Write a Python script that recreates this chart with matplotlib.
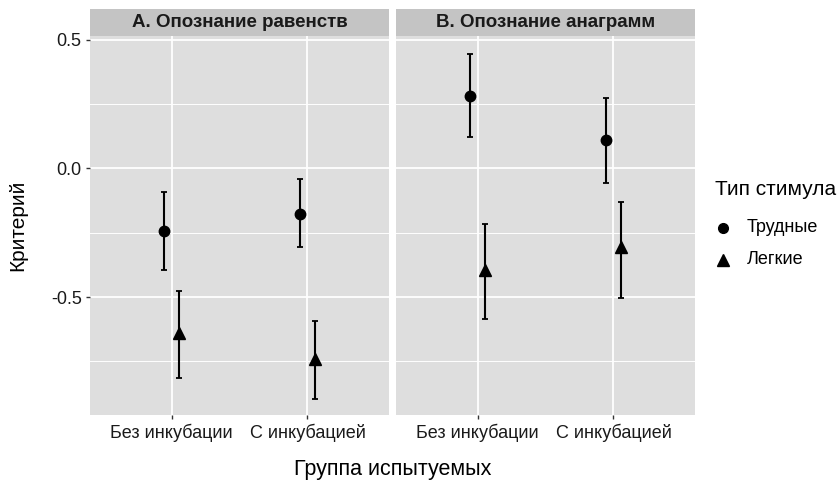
import matplotlib.pyplot as plt
from matplotlib.lines import Line2D

plt.rcParams['font.family'] = ['Liberation Sans', 'DejaVu Sans']

groups = ['Без инкубации', 'С инкубацией']
panels = ['А. Опознание равенств', 'В. Опознание анаграмм']
stim_types = ['Трудные', 'Легкие']

# values per panel: [Без инкубации, С инкубацией]
hard_mean = [[-0.243, -0.178], [0.281, 0.109]]
hard_low = [[-0.393, -0.307], [0.120, -0.056]]
hard_high = [[-0.093, -0.042], [0.445, 0.273]]
easy_mean = [[-0.640, -0.741], [-0.395, -0.305]]
easy_low = [[-0.816, -0.897], [-0.586, -0.502]]
easy_high = [[-0.477, -0.593], [-0.218, -0.130]]

W, H = 840, 482
fig = plt.figure(figsize=(W / 100, H / 100), dpi=100)

def px(x0, y0, x1, y1):
    return [x0 / W, 1 - y1 / H, (x1 - x0) / W, (y1 - y0) / H]

panel_x = [(90, 389), (396, 695)]
dodge = 0.055
ylim = (-0.958, 0.514)

for i, (x0, x1) in enumerate(panel_x):
    ax = fig.add_axes(px(x0, 36, x1, 415))
    ax.set_facecolor('#dedede')
    for s in ax.spines.values():
        s.set_visible(False)
    ax.set_xlim(0.4, 2.6)
    ax.set_ylim(*ylim)
    ax.set_yticks([-0.5, 0.0, 0.5])
    ax.set_yticks([-0.75, -0.25, 0.25], minor=True)
    ax.set_xticks([1, 2])
    ax.grid(True, which='major', color='white', lw=1.3)
    ax.grid(True, which='minor', axis='y', color='white', lw=0.7)
    ax.set_axisbelow(True)
    ax.tick_params(which='major', length=3, width=1, color='#333333',
                   labelsize=13, labelcolor='#1a1a1a', pad=3)
    ax.tick_params(which='minor', length=0)
    ax.set_xticklabels(groups)
    if i == 0:
        ax.set_yticklabels(['-0.5', '0.0', '0.5'])
    else:
        ax.tick_params(axis='y', which='both', length=0, labelleft=False)

    xs = [1, 2]
    for series, mean, low, high, marker in [
        (0, hard_mean[i], hard_low[i], hard_high[i], 'o'),
        (1, easy_mean[i], easy_low[i], easy_high[i], '^'),
    ]:
        off = -dodge if series == 0 else dodge
        xp = [x + off for x in xs]
        yerr = [[m - l for m, l in zip(mean, low)], [h - m for m, h in zip(mean, high)]]
        ax.errorbar(xp, mean, yerr=yerr, fmt='none', ecolor='black',
                    elinewidth=1.5, capsize=2, capthick=1.3, zorder=3)
        ax.plot(xp, mean, linestyle='none', marker=marker, color='black',
                markersize=7.5 if marker == 'o' else 8.5, zorder=4)

    # facet strip
    sax = fig.add_axes(px(x0, 9, x1, 36))
    sax.set_facecolor('#c4c4c4')
    sax.set_xticks([])
    sax.set_yticks([])
    for s in sax.spines.values():
        s.set_visible(False)
    sax.text(0.5, 0.5, panels[i], ha='center', va='center', fontsize=13.5,
             fontweight='bold', color='#1a1a1a', transform=sax.transAxes)

fig.text(18 / W, 1 - 225 / H, 'Критерий', rotation=90, ha='center', va='center',
         fontsize=15, color='black')
fig.text(393 / W, 1 - 470 / H, 'Группа испытуемых', ha='center', va='center',
         fontsize=15.5, color='black')

# legend, drawn by hand to match ggplot placement
fig.text(715 / W, 1 - 190 / H, 'Тип стимула', ha='left', va='center', fontsize=15)
for label, marker, ypix in zip(stim_types, ['o', '^'], [228, 260]):
    fig.add_artist(Line2D([723 / W], [1 - ypix / H], linestyle='none', marker=marker,
                          color='black', markersize=7 if marker == 'o' else 8,
                          transform=fig.transFigure))
    fig.text(747 / W, 1 - ypix / H, label, ha='left', va='center', fontsize=13)

fig.savefig('out.png', dpi=100)
